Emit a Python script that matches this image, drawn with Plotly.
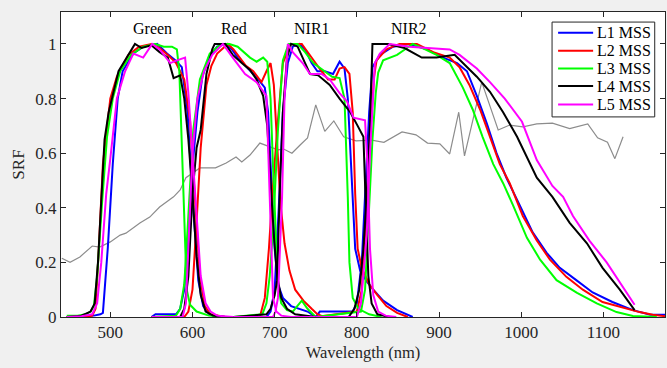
import plotly.graph_objects as go

# ---------------- data ----------------
gray_wl = [441,451,463,478,487,500,512,519,536,548,560,577,585,592,609,628,641,653,660,670,682,694,704,711,721,731,740,750,761,772,784,799,818,833,855,872,886,901,913,924,931,952,972,986,1002,1019,1038,1059,1081,1093,1105,1114,1124]
gray_val = [0.215,0.20,0.22,0.26,0.256,0.275,0.30,0.307,0.344,0.366,0.403,0.44,0.465,0.51,0.546,0.546,0.564,0.586,0.568,0.593,0.637,0.623,0.612,0.615,0.60,0.63,0.656,0.777,0.68,0.718,0.66,0.645,0.648,0.64,0.678,0.667,0.637,0.634,0.597,0.75,0.59,0.86,0.685,0.703,0.696,0.707,0.71,0.69,0.707,0.656,0.64,0.58,0.66]

# L1 MSS
L1_G_wl = [447,470,480,488,491,497,503,509,515,528,540,557,569,579,587,594,600,607,613,621,640]
L1_G = [0,0.003,0.005,0.01,0.015,0.255,0.56,0.8,0.9,0.965,0.99,1.0,0.965,0.94,0.915,0.75,0.44,0.135,0.04,0.008,0]
L1_R_wl = [550,555,580,585,590,595,600,606,612,620,630,640,648,655,666,680,688,692,696,700,704,710,720,730,740,750]
L1_R = [0,0.01,0.01,0.03,0.1,0.3,0.55,0.75,0.88,0.95,0.99,1.0,0.98,0.95,0.915,0.87,0.84,0.75,0.5,0.25,0.12,0.07,0.04,0.03,0.02,0]
L1_N1_wl = [650,690,695,700,705,710,716,722,730,737,745,752,761,771,779,785,789,794,798,804,812,820,832,849,868]
L1_N1 = [0,0,0.02,0.1,0.4,0.75,0.93,0.99,1.0,0.98,0.93,0.9,0.9,0.89,0.935,0.91,0.8,0.5,0.25,0.17,0.13,0.1,0.06,0.025,0]
L1_N2_wl = [750,755,795,800,806,811,815,819,828,844,864,885,905,922,934,946,958,970,982,998,1014,1031,1047,1067,1087,1111,1136,1157,1177]
L1_N2 = [0,0.02,0.02,0.05,0.2,0.5,0.75,0.915,0.96,0.99,1.0,0.98,0.95,0.93,0.9,0.81,0.71,0.6,0.51,0.41,0.31,0.235,0.18,0.135,0.09,0.055,0.025,0.008,0.008]

# L2 MSS
L2_G_wl = [447,470,478,482,486,491,500,508,515,522,535,550,560,570,580,590,597,603,609,615,622,640]
L2_G = [0,0,0.005,0.03,0.25,0.56,0.8,0.88,0.92,0.96,0.99,1.0,0.985,0.96,0.93,0.87,0.72,0.45,0.15,0.04,0.01,0]
L2_R_wl = [550,590,595,600,605,610,617,623,630,643,650,658,665,674,684,690,695,699,703,707,712,718,725,735,745,752,760]
L2_R = [0,0,0.02,0.1,0.35,0.62,0.85,0.92,0.965,1.0,0.98,0.95,0.92,0.9,0.86,0.9,0.93,0.85,0.62,0.42,0.27,0.17,0.1,0.06,0.03,0.01,0]
L2_N1_wl = [650,682,688,693,697,703,710,719,733,740,747,757,765,773,779,785,791,795,798,801,806,815,825,836,849,862]
L2_N1 = [0,0,0.07,0.25,0.44,0.685,0.93,1.0,1.0,0.97,0.94,0.9,0.87,0.87,0.91,0.915,0.89,0.75,0.45,0.25,0.18,0.12,0.08,0.04,0.015,0]
L2_N2_wl = [750,800,806,812,817,821,824,836,852,873,893,913,925,937,950,962,974,986,1002,1019,1035,1055,1075,1099,1124,1144,1160,1175]
L2_N2 = [0,0.02,0.1,0.4,0.7,0.88,0.94,0.98,1.0,1.0,0.97,0.95,0.915,0.85,0.76,0.66,0.56,0.49,0.37,0.28,0.21,0.147,0.1,0.055,0.033,0.018,0.008,0.003]

# L3 MSS
L3_G_wl = [447,460,470,476,480,484,490,496,503,512,525,540,555,565,575,581,584,587,590,593,597,605,620,640]
L3_G = [0.005,0.005,0.01,0.02,0.04,0.15,0.42,0.66,0.8,0.9,0.96,0.99,1.0,0.99,0.99,0.98,0.9,0.62,0.3,0.1,0.045,0.02,0.005,0]
L3_R_wl = [550,580,585,590,594,601,609,621,635,645,655,662,670,678,686,691,695,698,701,704,708,715,722,728,733,740,750]
L3_R = [0,0.005,0.03,0.12,0.32,0.685,0.87,0.965,1.0,1.0,0.99,0.97,0.95,0.935,0.95,0.935,0.8,0.55,0.3,0.12,0.05,0.025,0.02,0.04,0.06,0.03,0]
L3_N1_wl = [650,685,690,694,698,704,710,717,728,737,747,760,770,779,785,789,791,795,802,815,830]
L3_N1 = [0,0.01,0.05,0.15,0.32,0.685,0.94,1.0,1.0,0.97,0.93,0.9,0.88,0.875,0.8,0.44,0.2,0.07,0.03,0.01,0]
L3_N2_wl = [750,805,810,815,819,823,826,832,849,861,868,880,897,913,929,941,953,966,978,990,1007,1023,1043,1068,1092,1116,1136,1165]
L3_N2 = [0,0.02,0.1,0.4,0.65,0.82,0.895,0.94,0.96,0.985,1.0,0.985,0.96,0.93,0.84,0.76,0.66,0.56,0.49,0.41,0.29,0.21,0.135,0.088,0.05,0.018,0.004,0]

# L4 MSS
L4_G_wl = [447,465,476,481,485,489,493,498,504,510,518,530,538,550,560,570,577,585,590,595,600,605,610,616,625,640]
L4_G = [0,0.005,0.02,0.05,0.2,0.45,0.65,0.75,0.82,0.9,0.94,1.0,0.985,0.995,0.97,0.95,0.875,0.885,0.8,0.65,0.45,0.22,0.08,0.02,0.005,0]
L4_R_wl = [550,585,590,595,600,605,610,617,624,627,640,649,660,670,678,686,691,695,699,703,708,715,725,750]
L4_R = [0,0,0.03,0.15,0.45,0.62,0.685,0.89,0.98,1.0,1.0,0.96,0.93,0.905,0.87,0.81,0.7,0.5,0.3,0.15,0.07,0.03,0.01,0]
L4_N1_wl = [650,690,695,700,703,706,710,715,720,728,737,743,753,767,779,792,801,808,811,814,818,825,840]
L4_N1 = [0,0.01,0.03,0.08,0.135,0.44,0.75,0.95,1.0,0.99,0.93,0.89,0.885,0.85,0.8,0.75,0.7,0.66,0.4,0.15,0.05,0.01,0]
L4_N2_wl = [750,790,797,803,808,812,816,818,819,838,858,879,897,919,929,946,962,978,995,1007,1019,1038,1059,1080,1099,1120,1138]
L4_N2 = [0,0,0.03,0.1,0.25,0.45,0.7,0.9,1.0,1.0,0.985,0.95,0.95,0.96,0.93,0.88,0.825,0.75,0.66,0.585,0.51,0.44,0.345,0.27,0.18,0.1,0.025]

# L5 MSS
L5_G_wl = [447,465,478,484,489,495,500,508,518,528,540,551,560,573,581,591,595,600,605,610,616,622,630,650]
L5_G = [0,0.003,0.01,0.05,0.2,0.45,0.58,0.8,0.9,0.965,0.95,1.0,0.98,0.93,0.94,0.95,0.82,0.6,0.35,0.15,0.05,0.02,0.005,0]
L5_R_wl = [550,588,592,596,600,606,614,624,637,649,664,678,690,694,698,702,708,720,750]
L5_R = [0,0,0.05,0.3,0.6,0.8,0.9,0.96,1.0,0.95,0.89,0.86,0.81,0.44,0.07,0.02,0.005,0,0]
L5_N1_wl = [650,698,701,704,709,712,716,722,734,743,757,767,779,788,796,810,813,816,820,826,835,848]
L5_N1 = [0,0,0.02,0.07,0.44,0.8,1.0,0.97,0.93,0.89,0.89,0.87,0.82,0.79,0.73,0.72,0.55,0.25,0.08,0.02,0.005,0]
L5_N2_wl = [750,800,805,812,816,820,822,828,840,864,889,913,925,946,962,980,1001,1019,1038,1051,1063,1083,1104,1124,1138]
L5_N2 = [0,0,0.05,0.3,0.6,0.85,0.93,0.965,1.0,0.99,0.985,0.98,0.96,0.91,0.86,0.8,0.715,0.575,0.48,0.44,0.37,0.28,0.2,0.11,0.045]

series_names = ["L1 MSS", "L2 MSS", "L3 MSS", "L4 MSS", "L5 MSS"]
series_colors = ["#0000ff", "#ff0000", "#00ff00", "#000000", "#ff00ff"]
band_labels = ["Green", "Red", "NIR1", "NIR2"]
band_label_x = [551, 650, 745, 864]

series_bands = [
    [(L1_G_wl, L1_G), (L1_R_wl, L1_R), (L1_N1_wl, L1_N1), (L1_N2_wl, L1_N2)],
    [(L2_G_wl, L2_G), (L2_R_wl, L2_R), (L2_N1_wl, L2_N1), (L2_N2_wl, L2_N2)],
    [(L3_G_wl, L3_G), (L3_R_wl, L3_R), (L3_N1_wl, L3_N1), (L3_N2_wl, L3_N2)],
    [(L4_G_wl, L4_G), (L4_R_wl, L4_R), (L4_N1_wl, L4_N1), (L4_N2_wl, L4_N2)],
    [(L5_G_wl, L5_G), (L5_R_wl, L5_R), (L5_N1_wl, L5_N1), (L5_N2_wl, L5_N2)],
]


def join(bands):
    xs, ys = [], []
    for wl, v in bands:
        if xs:
            xs.append(None)
            ys.append(None)
        xs.extend(wl)
        ys.extend(v)
    return xs, ys


FONT = "Liberation Serif"
AX = "#262626"

fig = go.Figure()
fig.add_trace(go.Scatter(x=gray_wl, y=gray_val, mode="lines",
                         line=dict(color="#8c8c8c", width=1.2),
                         showlegend=False, hoverinfo="skip"))
for name, col, bands in zip(series_names, series_colors, series_bands):
    xs, ys = join(bands)
    fig.add_trace(go.Scatter(x=xs, y=ys, mode="lines", name=name,
                             line=dict(color=col, width=2), connectgaps=False,
                             showlegend=False))

for lab, lx in zip(band_labels, band_label_x):
    fig.add_annotation(x=lx, y=1.055, text=lab, showarrow=False,
                       font=dict(family=FONT, size=16, color="black"))

# compact MATLAB-style legend box (layout decoration in paper coordinates)
leg_x0, leg_x1, leg_y0, leg_y1 = 0.813, 0.983, 0.656, 0.967
leg_rows = [0.932, 0.873, 0.815, 0.757, 0.697]
fig.add_shape(type="rect", xref="paper", yref="paper", x0=leg_x0, x1=leg_x1,
              y0=leg_y0, y1=leg_y1, line=dict(color=AX, width=1),
              fillcolor="white", layer="above")
for name, col, ry in zip(series_names, series_colors, leg_rows):
    fig.add_shape(type="line", xref="paper", yref="paper", x0=0.823, x1=0.881,
                  y0=ry, y1=ry, line=dict(color=col, width=2), layer="above")
    fig.add_annotation(xref="paper", yref="paper", x=0.884, y=ry, text=name,
                       showarrow=False, xanchor="left", yanchor="middle",
                       font=dict(family=FONT, size=16, color="black"))

fig.update_layout(
    width=667, height=368,
    margin=dict(l=61, r=2, t=12, b=51),
    paper_bgcolor="#f0f0f0", plot_bgcolor="white",
    font=dict(family=FONT, size=16, color=AX),
    showlegend=False,
)
fig.update_xaxes(range=[440, 1175], tickvals=[500, 600, 700, 800, 900, 1000, 1100],
                 ticks="inside", ticklen=5, tickcolor=AX, showline=True, linecolor=AX,
                 linewidth=1, mirror="ticks", showgrid=False, zeroline=False,
                 tickfont=dict(family=FONT, size=17, color=AX),
                 title=dict(text="Wavelength (nm)", font=dict(family=FONT, size=16.5, color=AX), standoff=5))
fig.update_yaxes(range=[0, 1.117], tickvals=[0, 0.2, 0.4, 0.6, 0.8, 1],
                 ticktext=["0", "0.2", "0.4", "0.6", "0.8", "1"],
                 ticks="inside", ticklen=5, tickcolor=AX, showline=True, linecolor=AX,
                 linewidth=1, mirror="ticks", showgrid=False, zeroline=False,
                 tickfont=dict(family=FONT, size=17, color=AX),
                 title=dict(text="SRF", font=dict(family=FONT, size=17, color=AX), standoff=6))

fig.write_html("out.html")
